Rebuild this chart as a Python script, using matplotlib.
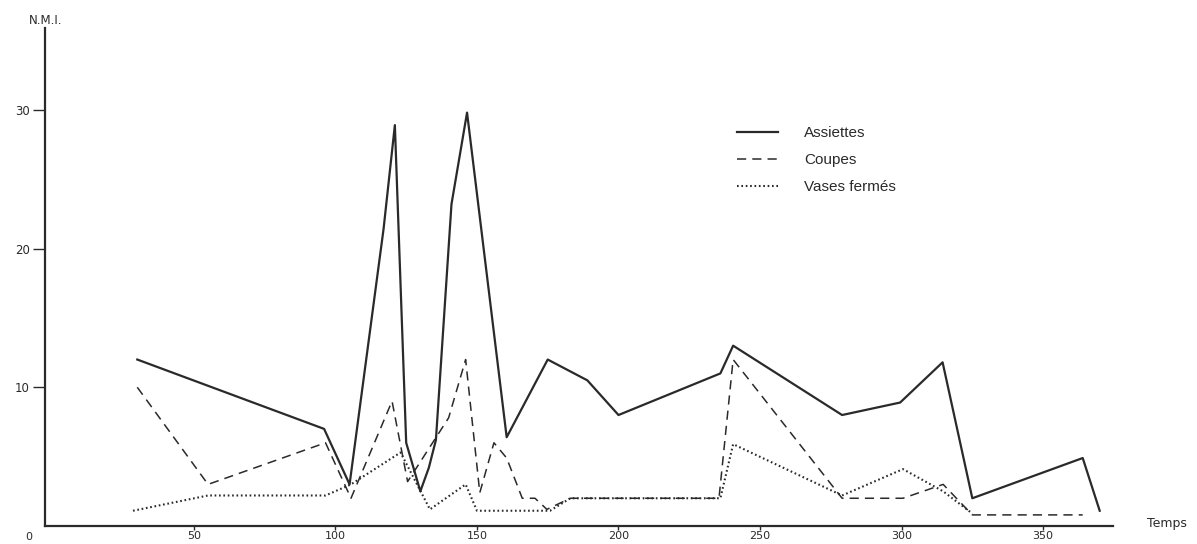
import matplotlib
matplotlib.use("Agg")
import matplotlib.pyplot as plt

# ----- data -----
assiettes_x = [30, 96, 105, 117, 121, 125, 130, 133, 135.5, 141, 146.5, 160.5,
               175, 189, 200, 236, 240.5, 279, 299.5, 314.5, 325, 364, 370]
assiettes_y = [12, 7, 3, 21.4, 28.9, 6, 2.5, 4.2, 6.2, 23.2, 29.8, 6.4,
               12, 10.5, 8, 11, 13, 8, 8.9, 11.8, 2, 4.9, 1.1]

coupes_x = [30, 55, 96.5, 105.5, 120, 125.5, 140, 146, 151, 156, 160.5, 166,
            170.5, 174.7, 183, 235.5, 240.5, 279, 300.5, 314.7, 325, 364]
coupes_y = [10, 3, 6, 2, 9, 3.2, 7.8, 12, 2.4, 6, 4.9, 2,
            2, 1.2, 2, 2, 12, 2, 2, 3, 0.8, 0.8]

vases_x = [28.5, 55, 96.5, 105.5, 123, 133.4, 146, 150, 175.8, 183,
           236, 240.5, 279, 300.5, 314.7, 325]
vases_y = [1.1, 2.2, 2.2, 3.0, 5.3, 1.2, 3.0, 1.1, 1.1, 2.0,
           2.0, 5.9, 2.2, 4.1, 2.5, 0.9]

x_ticks = [50, 100, 150, 200, 250, 300, 350]
y_ticks = [10, 20, 30]

ink = "#2a2a2a"

# ----- figure -----
fig = plt.figure(figsize=(11.97, 5.44), dpi=100)
ax = fig.add_axes([45 / 1197, 18 / 544, (1113 - 45) / 1197, 498 / 544])

ax.plot(assiettes_x, assiettes_y, color=ink, lw=1.6, label="Assiettes")
ax.plot(coupes_x, coupes_y, color=ink, lw=1.1, dashes=(6, 4), label="Coupes")
ax.plot(vases_x, vases_y, color=ink, lw=1.5, linestyle=(0, (0.8, 1.3)),
        label="Vases fermés")

ax.set_xlim(-2.6, 374.7)
ax.set_ylim(0, 35.9)

for s in ["top", "right"]:
    ax.spines[s].set_visible(False)
for s in ["left", "bottom"]:
    ax.spines[s].set_linewidth(1.6)
    ax.spines[s].set_color(ink)

ax.set_xticks(x_ticks)
ax.set_yticks(y_ticks)
ax.tick_params(axis="x", length=3, width=1, pad=0.5, colors=ink, labelsize=8)
ax.tick_params(axis="y", length=8.6, width=1, pad=2.5, colors=ink, labelsize=8.5)

# axis captions
fig.text(29 / 1197, 1 - 537 / 544, "0", fontsize=8, color=ink, ha="center", va="center")
fig.text(46 / 1197, 1 - 20 / 544, "N.M.I.", fontsize=8.5, color=ink, ha="center", va="center")
fig.text(1167 / 1197, 1 - 523 / 544, "Temps", fontsize=9, color=ink, ha="center", va="center")

leg = ax.legend(loc="upper left", bbox_to_anchor=(737 / 1197, 1 - 126 / 544),
                bbox_transform=fig.transFigure, frameon=False,
                prop={"family": "Liberation Sans", "size": 11},
                handlelength=2.7, handletextpad=1.7, labelspacing=0.85,
                borderpad=0, borderaxespad=0)
for t in leg.get_texts():
    t.set_color(ink)

plt.savefig("out.png", dpi=100)
